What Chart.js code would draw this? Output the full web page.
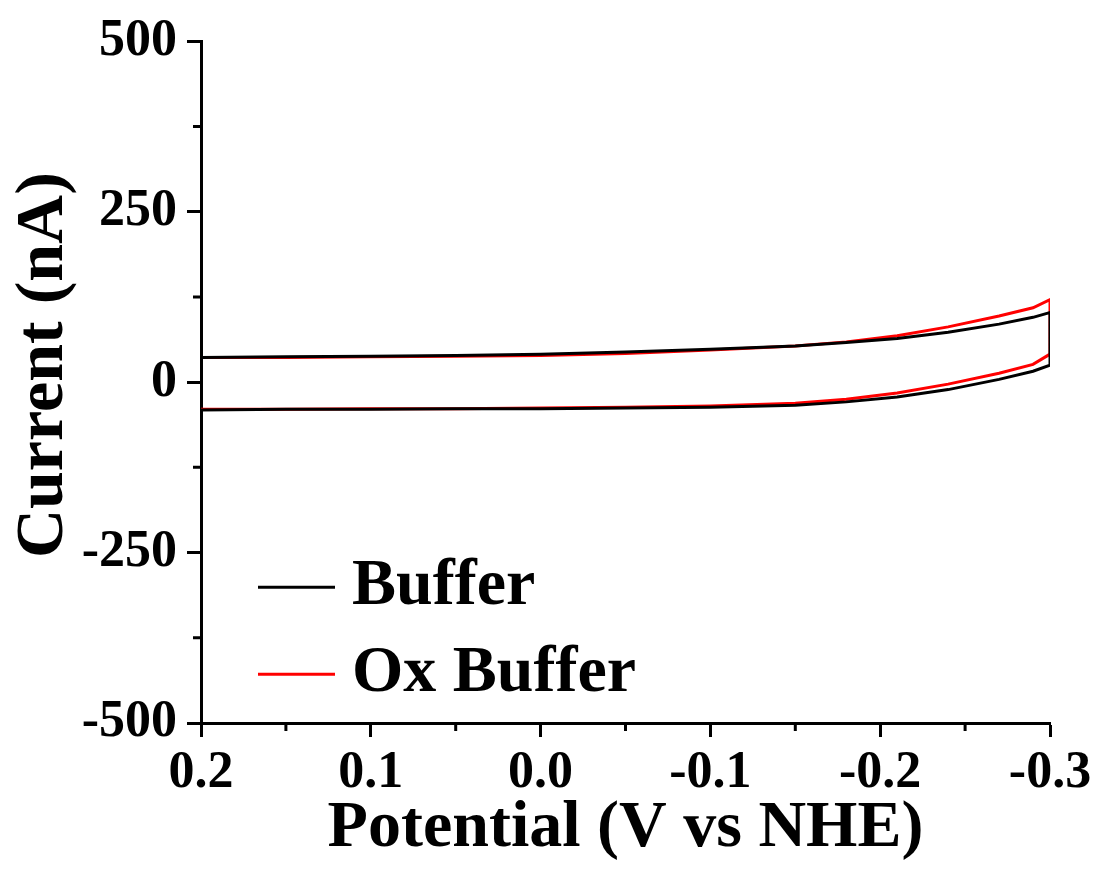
<!DOCTYPE html>
<html>
<head>
<meta charset="utf-8">
<script src="https://cdn.jsdelivr.net/npm/chart.js@4.4.1/dist/chart.umd.min.js"></script>
<style>
  html, body { margin: 0; padding: 0; background: #fff; }
  #wrap { position: relative; width: 1097px; height: 869px; }
</style>
</head>
<body>
<div id="wrap"><canvas id="cv" width="1097" height="869"></canvas></div>
<script>
// potentials (V vs NHE), sampled along each sweep
var potential = [0.2, 0.15, 0.1, 0.05, 0.0, -0.05, -0.1, -0.15, -0.18, -0.21, -0.24, -0.27, -0.29, -0.3];

// currents in nA, upper (forward) and lower (return) branches
var bufferUpper = [36, 37, 38, 39, 41, 44, 48, 53, 58, 64, 73, 85, 95, 102];
var bufferLower = [-41, -40, -40, -39, -39, -38, -37, -34, -29, -22, -11, 4, 16, 25];
var oxUpper = [36, 36, 37, 38, 39, 42, 47, 53, 59, 68, 81, 97, 109, 121];
var oxLower = [-40, -40, -39, -39, -38, -37, -35, -31, -25, -16, -3, 13, 26, 41];

var seriesNames = ['Buffer', 'Ox Buffer'];
var seriesColors = ['#000000', '#ff0000'];

var xTicks = [0.2, 0.1, 0.0, -0.1, -0.2, -0.3];
var yTicks = [500, 250, 0, -250, -500];

// a cyclic voltammogram: out on the upper branch, back on the lower one
function loop(upper, lower) {
  var pts = [];
  for (var i = 0; i < potential.length; i++) pts.push({x: potential[i], y: upper[i]});
  for (var j = potential.length - 1; j >= 0; j--) pts.push({x: potential[j], y: lower[j]});
  return pts;
}

var FONT = '"Liberation Serif", "Times New Roman", serif';

// short minor ticks halfway between the labelled ones
var minorTicks = {
  id: 'minorTicks',
  afterDraw: function (chart) {
    var c = chart.ctx, xs = chart.scales.x, ys = chart.scales.y;
    c.save();
    c.strokeStyle = '#000';
    c.lineWidth = 3;
    c.beginPath();
    for (var i = 0; i < xTicks.length - 1; i++) {
      var px = xs.getPixelForValue((xTicks[i] + xTicks[i + 1]) / 2);
      c.moveTo(px, chart.chartArea.bottom);
      c.lineTo(px, chart.chartArea.bottom + 8);
    }
    for (var k = 0; k < yTicks.length - 1; k++) {
      var py = ys.getPixelForValue((yTicks[k] + yTicks[k + 1]) / 2);
      c.moveTo(chart.chartArea.left, py);
      c.lineTo(chart.chartArea.left - 8, py);
    }
    c.stroke();
    c.restore();
  }
};

// legend inside the plot, lower left
var innerLegend = {
  id: 'innerLegend',
  afterDraw: function (chart) {
    var c = chart.ctx, a = chart.chartArea;
    c.save();
    c.font = 'bold 66px ' + FONT;
    c.textBaseline = 'alphabetic';
    for (var i = 0; i < seriesNames.length; i++) {
      var ly = a.top + 546 + i * 87;
      c.strokeStyle = seriesColors[i];
      c.lineWidth = 3;
      c.beginPath();
      c.moveTo(a.left + 57, ly);
      c.lineTo(a.left + 134, ly);
      c.stroke();
      c.fillStyle = '#000';
      c.fillText(seriesNames[i], a.left + 151, ly + 17);
    }
    c.restore();
  }
};

var ctx = document.getElementById('cv').getContext('2d');
var chart = new Chart(ctx, {
  type: 'scatter',
  data: {
    datasets: [{
      label: seriesNames[0],
      data: loop(bufferUpper, bufferLower),
      showLine: true,
      borderColor: seriesColors[0],
      borderWidth: 3,
      pointRadius: 0,
      tension: 0
    }, {
      label: seriesNames[1],
      data: loop(oxUpper, oxLower),
      showLine: true,
      borderColor: seriesColors[1],
      borderWidth: 3,
      pointRadius: 0,
      tension: 0
    }]
  },
  options: {
    responsive: false,
    animation: false,
    layout: {
      padding: { top: 37, right: 47, bottom: 0, left: 0 }
    },
    plugins: {
      legend: { display: false },
      tooltip: { enabled: false }
    },
    scales: {
      x: {
        type: 'linear',
        reverse: true,
        min: -0.3,
        max: 0.2,
        afterFit: function (s) { s.height = 146; },
        afterBuildTicks: function (s) {
          s.ticks = xTicks.map(function (v) { return {value: v}; });
        },
        border: { color: '#000', width: 3 },
        grid: { drawOnChartArea: false, tickLength: 14, tickWidth: 3, tickColor: '#000' },
        ticks: {
          color: '#000',
          padding: 5,
          maxRotation: 0,
          font: { family: FONT, size: 52, weight: 'bold' },
          callback: function (v) { return Math.abs(v) < 1e-9 ? '0.0' : Number(v).toFixed(1); }
        },
        title: {
          display: true,
          text: 'Potential (V vs NHE)',
          color: '#000',
          padding: 0,
          font: { family: FONT, size: 66, weight: 'bold', lineHeight: 1.2 }
        }
      },
      y: {
        type: 'linear',
        min: -500,
        max: 500,
        afterFit: function (s) { s.width = 201; },
        afterBuildTicks: function (s) {
          s.ticks = yTicks.map(function (v) { return {value: v}; });
        },
        border: { color: '#000', width: 3 },
        grid: { drawOnChartArea: false, tickLength: 14, tickWidth: 3, tickColor: '#000' },
        ticks: {
          color: '#000',
          padding: 10,
          font: { family: FONT, size: 52, weight: 'bold' },
          callback: function (v) { return String(v); }
        },
        title: {
          display: true,
          text: '  Current (nA)',
          color: '#000',
          padding: { top: 4, bottom: 0 },
          font: { family: FONT, size: 68, weight: 'bold', lineHeight: 1.2 }
        }
      }
    }
  },
  plugins: [minorTicks, innerLegend]
});
</script>
</body>
</html>
